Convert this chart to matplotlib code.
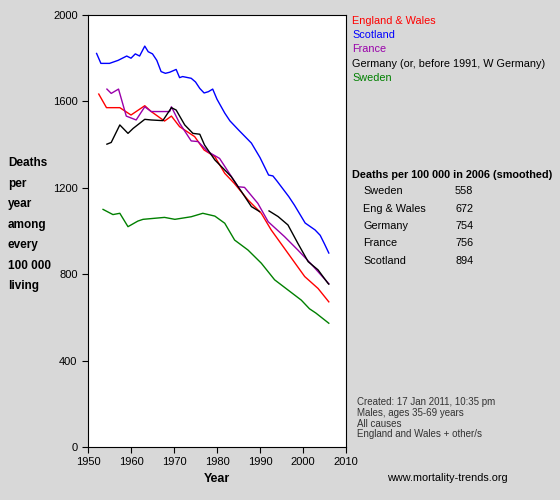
import matplotlib
matplotlib.use('Agg')
import matplotlib.pyplot as plt
plt.rcParams['font.family'] = ['Liberation Sans', 'DejaVu Sans']

sc_x = [1952,1953,1955,1957,1959,1960,1961,1962,1963.2,1964,1965,1966,1967,1968,1969,1970.5,1971.3,1972,1974,1975,1976,1977,1978,1979,1980,1981.8,1983,1985,1988,1990,1992,1993,1994,1996.7,1998,2000.5,2002.8,2004,2005,2006]
sc_y = [1822,1776,1776,1790,1810,1800,1820,1810,1856,1830,1820,1790,1738,1730,1735,1748,1710,1715,1707,1690,1660,1639,1645,1657,1610,1546,1510,1468,1407,1340,1259,1255,1230,1159,1120,1037,1005,980,940,898]
ew_x = [1952.5,1954.3,1957.4,1960,1963.2,1964.7,1967.8,1969.4,1971.3,1974.8,1977,1979.5,1981.8,1984,1987.2,1990.3,1992.6,1996.5,2000.4,2003.5,2005.8,2006]
ew_y = [1634,1571,1571,1537,1580,1553,1509,1532,1483,1437,1375,1344,1267,1221,1144,1082,1005,897,789,734,677,672]
fr_x = [1954.4,1955.4,1957.1,1958.9,1961.2,1963.2,1964.7,1969,1969.4,1971.3,1974,1975.6,1977.9,1980.6,1982.6,1984.9,1986.4,1989.5,1991.9,1995.7,1998.8,2001.9,2006]
fr_y = [1657,1637,1657,1532,1514,1575,1553,1553,1575,1499,1417,1414,1367,1336,1275,1205,1202,1128,1043,974,912,847,756]
de1_x = [1954.4,1955.4,1957.4,1959.3,1960.5,1963.2,1964.7,1967.4,1969.4,1970.5,1972.5,1974.4,1976,1977.1,1979.5,1983.3,1985.7,1988,1989.9]
de1_y = [1402,1410,1491,1452,1475,1517,1514,1511,1571,1560,1491,1452,1448,1398,1329,1252,1182,1113,1090]
de2_x = [1992.1,1994.2,1996.5,1998.8,2001.2,2003.5,2005.8,2006]
de2_y = [1093,1067,1028,943,858,820,758,754]
sw_x = [1953.5,1955.8,1957.4,1959.3,1961.6,1962.8,1967.8,1970.2,1974,1976.7,1979.5,1981.8,1984.1,1987.2,1990.3,1993.4,1996.5,1999.6,2001.5,2003,2006]
sw_y = [1100,1076,1082,1020,1046,1054,1063,1054,1066,1082,1069,1036,958,912,851,774,727,680,640,620,573]

legend_names = ["England & Wales", "Scotland", "France", "Germany (or, before 1991, W Germany)", "Sweden"]
legend_cols = ["#ff0000", "#0000ff", "#9900aa", "#000000", "#008000"]
table_names = ["Sweden", "Eng & Wales", "Germany", "France", "Scotland"]
table_vals = ["558", "672", "754", "756", "894"]

bg = '#d8d8d8'
fig = plt.figure(figsize=(5.6, 5), dpi=100, facecolor=bg)
ax = fig.add_axes([88/560, 53/500, 258/560, 432/500])
ax.set_facecolor('white')
ax.plot(sc_x, sc_y, color="#0000ff", lw=1)
ax.plot(ew_x, ew_y, color="#ff0000", lw=1)
ax.plot(fr_x, fr_y, color="#9900aa", lw=1)
ax.plot(de1_x, de1_y, color="#000000", lw=1)
ax.plot(de2_x, de2_y, color="#000000", lw=1)
ax.plot(sw_x, sw_y, color="#008000", lw=1)
ax.set_xlim(1950, 2010)
ax.set_ylim(0, 2000)
ax.set_xticks(range(1950, 2011, 10))
ax.set_yticks(range(0, 2001, 400))
ax.tick_params(labelsize=8, length=4)
ax.set_xlabel("Year", fontsize=9, fontweight='bold')
fig.text(8/560, 1-157/500, "Deaths\nper\nyear\namong\nevery\n100 000\nliving", fontsize=8.5, fontweight='bold',
         va='top', ha='left', linespacing=1.95)

for i, (n, c) in enumerate(zip(legend_names, legend_cols)):
    fig.text(352/560, 1-(21+14.2*i)/500, n, color=c, fontsize=7.8, va='center')
fig.text(352/560, 1-175/500, "Deaths per 100 000 in 2006 (smoothed)", fontsize=7.8, fontweight='bold', va='center')
for i, (n, v) in enumerate(zip(table_names, table_vals)):
    y = 1-(191+17.5*i)/500
    fig.text(363/560, y, n, fontsize=7.8, va='center')
    fig.text(455/560, y, v, fontsize=7.8, va='center')
fig.text(357/560, 1-397/500, "Created: 17 Jan 2011, 10:35 pm\nMales, ages 35-69 years\nAll causes\nEngland and Wales + other/s",
         fontsize=7, va='top', color='#333333', linespacing=1.1)
fig.text(387/560, 1-478/500, "www.mortality-trends.org", fontsize=7.8, va='center')
fig.savefig('out.png', dpi=100, facecolor=bg)
